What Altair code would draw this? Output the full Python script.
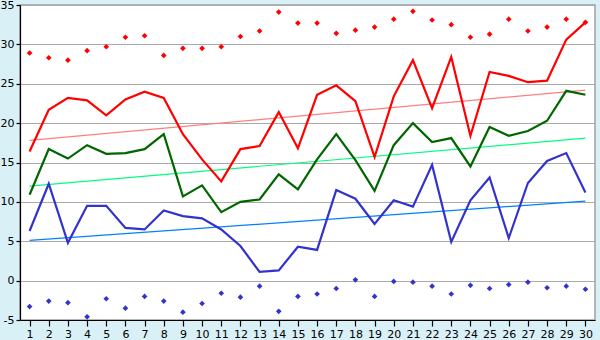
import altair as alt
import pandas as pd

# Daily temperatures for one month (°C)
days = list(range(1, 31))

temp_max = [16.4, 21.7, 23.2, 22.9, 21.0, 23.0, 24.0, 23.2, 18.6, 15.4,
            12.6, 16.7, 17.1, 21.4, 16.8, 23.6, 24.8, 22.8, 15.7, 23.4,
            28.0, 21.9, 28.4, 18.4, 26.5, 26.0, 25.2, 25.4, 30.6, 32.8]

temp_mean = [10.9, 16.7, 15.5, 17.2, 16.1, 16.2, 16.7, 18.6, 10.7, 12.1,
             8.7, 10.0, 10.3, 13.5, 11.6, 15.4, 18.6, 15.3, 11.4, 17.2,
             20.0, 17.6, 18.1, 14.5, 19.5, 18.4, 19.0, 20.3, 24.1, 23.6]

temp_min = [6.3, 12.3, 4.8, 9.5, 9.5, 6.7, 6.5, 8.9, 8.2, 7.9,
            6.5, 4.4, 1.1, 1.3, 4.3, 3.9, 11.5, 10.4, 7.2, 10.2,
            9.4, 14.7, 4.9, 10.2, 13.1, 5.4, 12.4, 15.2, 16.2, 11.2]

record_max = [28.9, 28.3, 28.0, 29.2, 29.7, 30.9, 31.1, 28.6, 29.5, 29.5,
              29.7, 31.0, 31.7, 34.1, 32.7, 32.7, 31.4, 31.8, 32.2, 33.2,
              34.2, 33.1, 32.5, 30.9, 31.3, 33.2, 31.7, 32.2, 33.2, 32.8]

record_min = [-3.3, -2.6, -2.8, -4.6, -2.3, -3.5, -2.0, -2.6, -4.0, -2.9,
              -1.6, -2.1, -0.7, -3.9, -2.0, -1.7, -1.0, 0.1, -2.0, -0.1,
              -0.2, -0.7, -1.7, -0.6, -1.0, -0.5, -0.2, -0.9, -0.7, -1.1]

# Trend lines: value on the first and on the last day
trend_days = [1, 30]
trend_max = [17.8, 24.2]
trend_mean = [12.0, 18.1]
trend_min = [5.1, 10.1]

y_ticks = [-5, 0, 5, 10, 15, 20, 25, 30, 35]

lines = pd.concat([
    pd.DataFrame({"day": days, "t": temp_max, "s": "max"}),
    pd.DataFrame({"day": days, "t": temp_mean, "s": "mean"}),
    pd.DataFrame({"day": days, "t": temp_min, "s": "min"}),
])
trends = pd.concat([
    pd.DataFrame({"day": trend_days, "t": trend_max, "s": "tmax"}),
    pd.DataFrame({"day": trend_days, "t": trend_mean, "s": "tmean"}),
    pd.DataFrame({"day": trend_days, "t": trend_min, "s": "tmin"}),
])
records = pd.concat([
    pd.DataFrame({"day": days, "t": record_max, "s": "rmax"}),
    pd.DataFrame({"day": days, "t": record_min, "s": "rmin"}),
])

color_scale = alt.Scale(
    domain=["max", "mean", "min", "tmax", "tmean", "tmin", "rmax", "rmin"],
    range=["#ff0000", "#006600", "#3333cc", "#ff7f7f", "#00ff80", "#0080ff",
           "#ff0000", "#3333cc"],
)

x = alt.X("day:Q", scale=alt.Scale(domain=[0.5, 30.5], nice=False, zero=False),
          axis=alt.Axis(values=days, format="d", grid=False, title=None,
                        tickSize=6, labelPadding=2, labelFlush=False))
# plain hyphen for negative labels keeps "-5" inside the left margin
y = alt.Y("t:Q", scale=alt.Scale(domain=[-5, 35], nice=False, zero=False),
          axis=alt.Axis(values=y_ticks, grid=True, title=None,
                        labelExpr="'' + datum.value",
                        tickSize=4, labelPadding=2))
color = alt.Color("s:N", scale=color_scale, legend=None)

trend_layer = alt.Chart(trends).mark_line(strokeWidth=1.2).encode(
    x=x, y=y, color=color, detail="s:N")
line_layer = alt.Chart(lines).mark_line(strokeWidth=2.2).encode(
    x=x, y=y, color=color, detail="s:N")
record_layer = alt.Chart(records).mark_point(
    shape="diamond", filled=True, opacity=1, size=32).encode(
    x=x, y=y, color=color)

chart = alt.layer(trend_layer, line_layer, record_layer).properties(
    width=575, height=315,
    background="#d9f0f7",
    padding={"left": 20, "top": 5, "right": 5, "bottom": 20},
    autosize=alt.AutoSizeParams(type="none"),
).configure_view(
    fill="#ffffff", stroke="#a0a0a0", strokeWidth=1.5,
).configure_axis(
    domainColor="#000000", tickColor="#000000", gridColor="#aaaaaa",
    gridWidth=1.2, labelFont="DejaVu Sans", labelFontSize=11,
    labelColor="#000000", domainWidth=1.2, tickWidth=1.2,
)

chart.save("out.html", embed_options={"renderer": "svg", "actions": False})
